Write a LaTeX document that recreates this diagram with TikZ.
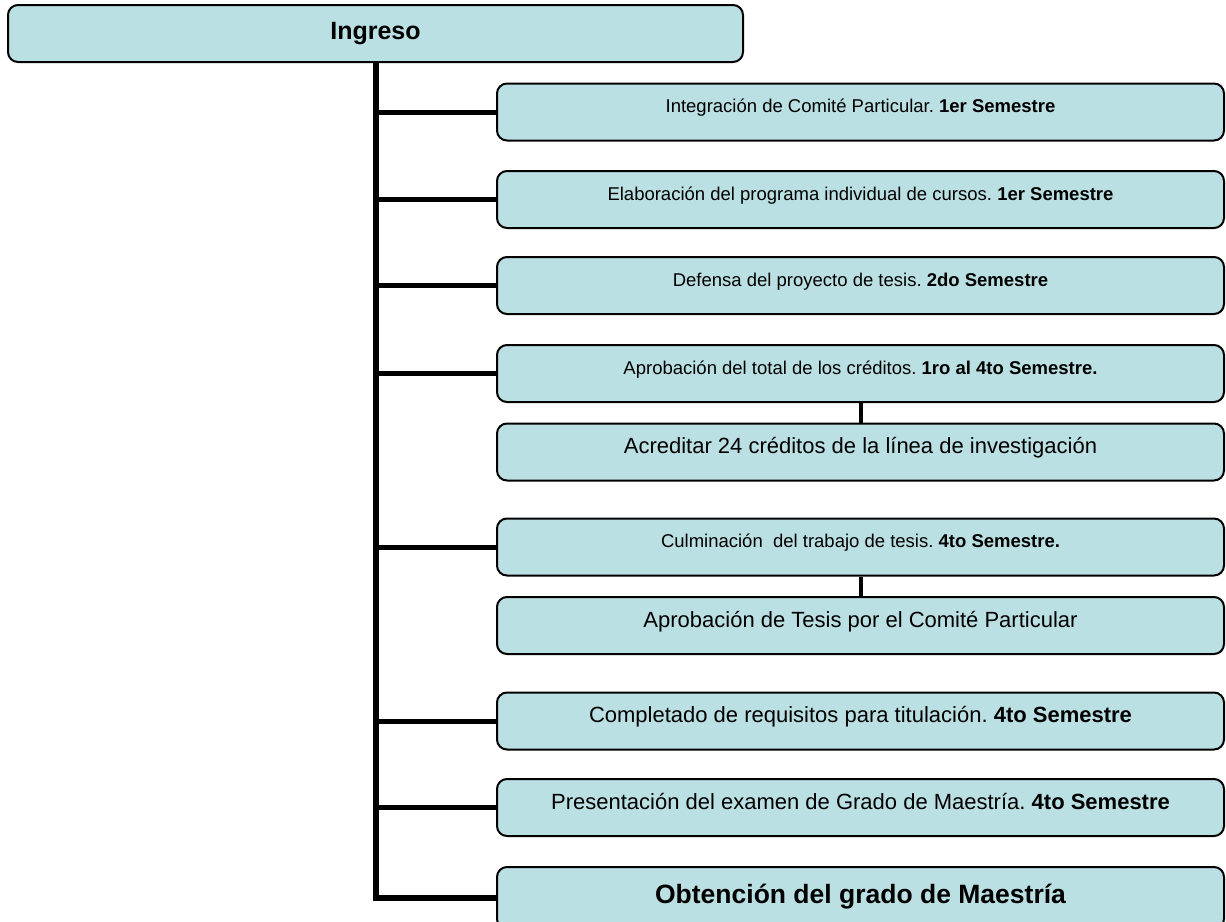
\documentclass[tikz,border=0pt]{standalone}
\usepackage{fontspec}
\setmainfont{Liberation Sans}
\frenchspacing
\definecolor{boxfill}{RGB}{187,224,227}
\begin{document}
\begin{tikzpicture}[x=1pt,y=-1pt,
    box/.style={draw, line width=2pt, rounded corners=10pt, fill=boxfill,
      minimum width=727pt, minimum height=57pt, inner sep=0pt},
    small/.style={box, font=\fontsize{18.5}{22}\selectfont, text height=14pt, text depth=12.7pt},
    large/.style={box, font=\fontsize{22}{26}\selectfont, text height=16pt, text depth=12.2pt},
    trunk/.style={line width=6pt},
    branch/.style={line width=5pt},
    link/.style={line width=4pt}]
  \useasboundingbox (0,0) rectangle (1226,921);
  \node[box, minimum width=735pt, font=\fontsize{25}{30}\selectfont\bfseries,
    text height=18pt, text depth=7pt] (ingreso) at (375.5,33.5) {Ingreso};
  \node[small] (comite) at (860.5,112) {Integración de Comité Particular. \textbf{1er Semestre}};
  \node[small] (programa) at (860.5,199.5) {Elaboración del programa individual de cursos. \textbf{1er Semestre}};
  \node[small] (proyecto) at (860.5,285.5) {Defensa del proyecto de tesis. \textbf{2do Semestre}};
  \node[small] (creditos) at (860.5,373.5) {Aprobación del total de los créditos. \textbf{1ro al 4to Semestre.}};
  \node[large] (linea) at (860.5,452) {Acreditar 24 créditos de la línea de investigación};
  \node[small] (tesis) at (860.5,547) {Culminación\ \ del trabajo de tesis. \textbf{4to Semestre.}};
  \node[large] (aprobacion) at (860.5,625.5) {Aprobación de Tesis por el Comité Particular};
  \node[large] (requisitos) at (860.5,721) {Completado de requisitos para titulación. \textbf{4to Semestre}};
  \node[large] (examen) at (860.5,807.5) {Presentación del examen de Grado de Maestría. \textbf{4to Semestre}};
  \node[box, minimum height=62pt, font=\fontsize{26.5}{31}\selectfont\bfseries,
    text height=19pt, text depth=8.3pt] (grado) at (860.5,898) {Obtención del grado de Maestría};
  % tronco y ramas
  \draw[trunk] (ingreso.south) |- (grado.west);
  \foreach \n in {comite,programa,proyecto,creditos,tesis,requisitos,examen}
    \draw[branch] (ingreso.south |- \n.west) -- (\n.west);
  \draw[link] (creditos.south) -- (linea.north);
  \draw[link] (tesis.south) -- (aprobacion.north);
\end{tikzpicture}
\end{document}
